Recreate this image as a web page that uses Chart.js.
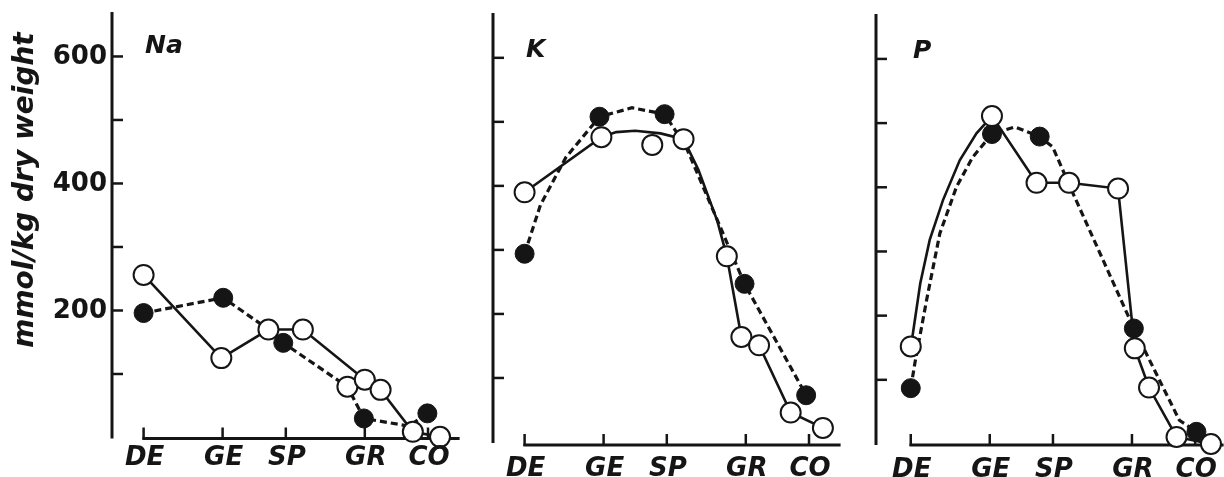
<!DOCTYPE html>
<html>
<head>
<meta charset="utf-8">
<script src="https://cdn.jsdelivr.net/npm/chart.js@4.4.0/dist/chart.umd.min.js"></script>
<style>
  html, body { margin: 0; padding: 0; background: #fff; }
  #wrap { position: relative; width: 1224px; height: 477px; overflow: hidden; }
  #wrap canvas { position: absolute; left: 0; top: 0; }
</style>
</head>
<body>
<div id="wrap">
  <canvas id="naChart" width="1224" height="477"></canvas>
  <canvas id="kChart" width="1224" height="477"></canvas>
  <canvas id="pChart" width="1224" height="477"></canvas>
</div>
<script>
// tissue stages along the x axis
const stageNames = ["DE", "GE", "SP", "GR", "CO"];
const stagePos = [0, 2.5, 4.5, 7, 9];
const yTicks = [100, 200, 300, 400, 500, 600];
const yLabelled = [200, 400, 600];

// Na  (open = solid line, filled = dashed line)
const naOpen = [[0, 256], [2.46, 125], [3.95, 170], [5.04, 170], [6.45, 80], [7.0, 91], [7.5, 75], [8.52, 9], [9.38, 1]];
const naFilled = [[0, 196], [2.52, 220], [4.42, 149], [6.97, 30], [8.98, 38]];
const naSolid = [[0, 256], [2.46, 125], [3.95, 170], [5.04, 170], [7.0, 91], [7.5, 75], [8.52, 9], [9.38, 1]];
const naDashed = [[0, 196], [2.52, 220], [3.9, 172], [4.42, 149], [6.45, 80], [6.97, 30], [8.4, 18], [8.98, 38]];

// K
const kOpen = [[0, 390], [2.43, 476], [4.04, 464], [5.03, 473], [6.4, 290], [6.86, 164], [7.42, 151], [8.42, 46], [9.44, 22]];
const kFilled = [[0, 294], [2.37, 508], [4.43, 512], [6.96, 247], [8.91, 73]];
const kSolid = [[0, 390], [2.43, 476], [2.9, 484], [3.5, 486], [4.3, 482], [5.03, 473], [5.5, 425], [6.1, 345], [6.4, 290], [6.86, 164], [7.42, 151], [8.42, 46], [9.44, 22]];
const kDashed = [[0, 294], [0.5, 370], [1.3, 444], [2.37, 508], [3.4, 522], [4.43, 512], [5.1, 462], [6.96, 247], [8.91, 73]];

// P
const pOpen = [[0, 152], [2.57, 511], [3.98, 407], [5.01, 407], [6.56, 398], [7.09, 149], [7.54, 88], [8.41, 11], [9.5, 0]];
const pFilled = [[0, 87], [2.57, 483], [4.08, 479], [7.06, 180], [9.04, 19]];
const pSolid = [[0, 152], [0.07, 173], [0.3, 250], [0.6, 318], [1.02, 380], [1.55, 442], [2.08, 484], [2.57, 511], [3.98, 407], [5.01, 407], [6.56, 398], [7.09, 149], [7.54, 88], [8.41, 11], [9.5, 0]];
const pDashed = [[0, 87], [0.13, 126], [0.5, 224], [0.92, 328], [1.45, 401], [1.96, 447], [2.57, 483], [3.3, 494], [4.08, 479], [4.49, 463], [5.13, 391], [7.06, 180], [8.5, 37], [9.04, 19]];

const ink = "#151515";
const W = 1224, H = 477;
const pxPerUnit = 31.6;

const toXY = arr => arr.map(p => ({ x: p[0], y: p[1] }));

// panel boxes: plot area edges, stage axis offset and text baselines
const panels = [
  { id: "naChart", name: "Na", left: 112, top: 12, bottom: 437.5, xMin: -1, xMax: 10, drop: 1,
    titleDx: 33, titleY: 53, labelY: 465, yLabels: true,
    open: naOpen, filled: naFilled, solid: naSolid, dashed: naDashed },
  { id: "kChart", name: "K", left: 493, top: 13, bottom: 442, xMin: -1, xMax: 10, drop: 3,
    titleDx: 33, titleY: 57, labelY: 476, yLabels: false,
    open: kOpen, filled: kFilled, solid: kSolid, dashed: kDashed },
  { id: "pChart", name: "P", left: 876, top: 14, bottom: 444, xMin: -1.1, xMax: 9.9, drop: 1,
    titleDx: 37, titleY: 58, labelY: 477, yLabels: false,
    open: pOpen, filled: pFilled, solid: pSolid, dashed: pDashed }
];

function decorPlugin(panel) {
  return {
    id: "decor",
    beforeDatasetsDraw(chart) {
      const { ctx, chartArea } = chart;
      const xs = chart.scales.x, ys = chart.scales.y;
      const axisY = chartArea.bottom + panel.drop;
      ctx.save();
      ctx.strokeStyle = ink;
      ctx.lineCap = "butt";
      // vertical axis with inward ticks
      ctx.lineWidth = 3;
      ctx.beginPath();
      ctx.moveTo(chartArea.left, chartArea.top);
      ctx.lineTo(chartArea.left, chartArea.bottom + 1);
      ctx.stroke();
      ctx.lineWidth = 2.5;
      yTicks.forEach(v => {
        const py = ys.getPixelForValue(v);
        ctx.beginPath();
        ctx.moveTo(chartArea.left, py);
        ctx.lineTo(chartArea.left + 11, py);
        ctx.stroke();
      });
      // stage axis starts at the first stage, ticks point up
      ctx.lineWidth = 3;
      ctx.beginPath();
      ctx.moveTo(xs.getPixelForValue(stagePos[0]) - 1.2, axisY);
      ctx.lineTo(chartArea.right, axisY);
      ctx.stroke();
      ctx.lineWidth = 2.5;
      stagePos.forEach(v => {
        const px = xs.getPixelForValue(v);
        ctx.beginPath();
        ctx.moveTo(px, axisY + 1);
        ctx.lineTo(px, axisY - 11);
        ctx.stroke();
      });
      ctx.restore();
    },
    afterDraw(chart) {
      const { ctx, chartArea } = chart;
      const xs = chart.scales.x, ys = chart.scales.y;
      ctx.save();
      ctx.fillStyle = ink;

      // element name
      ctx.textBaseline = "alphabetic";
      ctx.textAlign = "left";
      ctx.font = "italic bold 25px 'DejaVu Sans'";
      ctx.fillText(panel.name, chartArea.left + panel.titleDx, panel.titleY);

      // stage names
      ctx.textAlign = "center";
      ctx.font = "italic bold 26px 'DejaVu Sans'";
      stagePos.forEach((v, i) => {
        ctx.fillText(stageNames[i], xs.getPixelForValue(v) + 1, panel.labelY);
      });

      if (panel.yLabels) {
        ctx.textAlign = "right";
        ctx.textBaseline = "middle";
        ctx.font = "bold 26px 'DejaVu Sans'";
        yLabelled.forEach(v => {
          ctx.fillText(String(v), chartArea.left - 5, ys.getPixelForValue(v) + 1);
        });
        ctx.translate(33, 190);
        ctx.rotate(-Math.PI / 2);
        ctx.textAlign = "center";
        ctx.textBaseline = "alphabetic";
        ctx.font = "italic bold 28px 'DejaVu Sans'";
        ctx.fillText("mmol/kg dry weight", 0, 0);
      }
      ctx.restore();
    }
  };
}

panels.forEach(panel => {
  const right = panel.left + (panel.xMax - panel.xMin) * pxPerUnit;
  new Chart(document.getElementById(panel.id), {
    type: "line",
    data: {
      datasets: [
        {
          label: "open",
          data: toXY(panel.open),
          showLine: false,
          pointRadius: 10,
          pointBorderWidth: 2,
          pointBackgroundColor: "#ffffff",
          pointBorderColor: ink,
          order: 1
        },
        {
          label: "filled",
          data: toXY(panel.filled),
          showLine: false,
          pointRadius: 9.5,
          pointBorderWidth: 1,
          pointBackgroundColor: ink,
          pointBorderColor: ink,
          order: 2
        },
        {
          label: "solid",
          data: toXY(panel.solid),
          borderColor: ink,
          borderWidth: 2.6,
          pointRadius: 0,
          tension: 0,
          order: 3
        },
        {
          label: "dashed",
          data: toXY(panel.dashed),
          borderColor: ink,
          borderWidth: 3.2,
          borderDash: [7, 4],
          pointRadius: 0,
          tension: 0,
          order: 4
        }
      ]
    },
    options: {
      responsive: false,
      animation: false,
      events: [],
      layout: {
        autoPadding: false,
        padding: {
          left: panel.left,
          top: panel.top,
          right: W - right,
          bottom: H - panel.bottom
        }
      },
      plugins: {
        legend: { display: false },
        tooltip: { enabled: false }
      },
      datasets: { line: { clip: false } },
      scales: {
        x: { type: "linear", display: false, bounds: "data", min: panel.xMin, max: panel.xMax },
        y: { type: "linear", display: false, bounds: "data", min: 0, max: 670 }
      }
    },
    plugins: [decorPlugin(panel)]
  });
});
</script>
</body>
</html>
